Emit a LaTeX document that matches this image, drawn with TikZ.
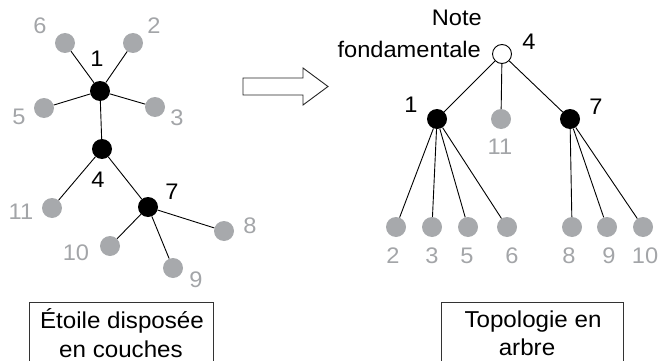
\documentclass[tikz,border=0pt]{standalone}
\usepackage{fontspec}
\setmainfont{Liberation Sans}[FakeStretch=1.05]
\definecolor{leafgray}{HTML}{A7A9AC}
\definecolor{labgray}{HTML}{A3A5A8}
\begin{document}
\begin{tikzpicture}[x=1pt,y=-1pt,
  edge/.style={line width=0.9pt, draw=black},
  leaf/.style={circle, fill=leafgray, minimum size=20pt, inner sep=0pt},
  hub/.style={circle, fill=black, minimum size=20pt, inner sep=0pt},
  rootnode/.style={circle, draw=black, fill=white, line width=0.9pt, minimum size=19pt, inner sep=0pt},
  glab/.style={text=labgray, font=\fontsize{22.5}{27}\selectfont, inner sep=0pt},
  blab/.style={text=black, font=\fontsize{22.5}{27}\selectfont, inner sep=0pt},
  boxtxt/.style={font=\fontsize{23}{28}\selectfont, inner sep=0pt, anchor=base},
  frame/.style={line width=0.9pt, draw=black!80}
]
\useasboundingbox (0,0) rectangle (658,361);

% ---------- left: layered star ----------
\node[hub] (L1) at (100,91) {};
\node[hub] (L4) at (102,149) {};
\node[hub] (L7) at (148,207) {};
\node[leaf] (L6) at (65,43) {};
\node[leaf] (L2) at (133,43) {};
\node[leaf] (L5) at (44,108) {};
\node[leaf] (L3) at (155,107) {};
\node[leaf] (L11) at (52,208) {};
\node[leaf] (L8) at (224,231) {};
\node[leaf] (L10) at (110,246) {};
\node[leaf] (L9) at (173,268) {};

\draw[edge] (L1) -- (L6);
\draw[edge] (L1) -- (L2);
\draw[edge] (L1) -- (L5);
\draw[edge] (L1) -- (L3);
\draw[edge] (L1) -- (L4);
\draw[edge] (L4) -- (L11);
\draw[edge] (L4) -- (L7);
\draw[edge] (L7) -- (L8);
\draw[edge] (L7) -- (L10);
\draw[edge] (L7) -- (L9);

\node[glab] (l6) at (40,26) {6};
\node[glab] (l2) at (154,26) {2};
\node[blab] (l1) at (97,59) {1};
\node[glab] (l5) at (19,117) {5};
\node[glab] (l3) at (177,118) {3};
\node[blab] (l4) at (98,180) {4};
\node[glab] (l11) at (21,212) {11};
\node[blab] (l7) at (172,192) {7};
\node[glab] (l8) at (250,226) {8};
\node[glab] (l10) at (76,253) {10};
\node[glab] (l9) at (196,280) {9};

% ---------- arrow ----------
\draw[line width=0.9pt, draw=black!85, fill=white]
  (243,78) -- (303,78) -- (303,68) -- (328,86.5) -- (303,105) -- (303,95) -- (243,95) -- cycle;

% ---------- right: tree ----------
\node[rootnode] (R4) at (502,54) {};
\node[hub] (R1) at (437,119) {};
\node[leaf] (R11) at (501,119) {};
\node[hub] (R7) at (570,119) {};
\node[leaf] (R2) at (396,227) {};
\node[leaf] (R3) at (432,227) {};
\node[leaf] (R5) at (468,227) {};
\node[leaf] (R6) at (507,227) {};
\node[leaf] (R8) at (572,227) {};
\node[leaf] (R9) at (607,227) {};
\node[leaf] (R10) at (643,227) {};

\draw[edge] (R4) -- (R1);
\draw[edge] (R4) -- (R11);
\draw[edge] (R4) -- (R7);
\draw[edge] (R1) -- (R2);
\draw[edge] (R1) -- (R3);
\draw[edge] (R1) -- (R5);
\draw[edge] (R1) -- (R6);
\draw[edge] (R7) -- (R8);
\draw[edge] (R7) -- (R9);
\draw[edge] (R7) -- (R10);

\node[blab, anchor=base east] (note1) at (482,26) {Note};
\node[blab, anchor=base east] (note2) at (481,57) {fondamentale};
\node[blab] (r4) at (529,42) {4};
\node[blab] (r1) at (411,105) {1};
\node[glab] (r11) at (500,147) {11};
\node[blab] (r7) at (596,107) {7};
\node[glab] (r2) at (393,256) {2};
\node[glab] (r3) at (432,256) {3};
\node[glab] (r5) at (467,256) {5};
\node[glab] (r6) at (512,256) {6};
\node[glab] (r8) at (569,256) {8};
\node[glab] (r9) at (609,256) {9};
\node[glab] (r10) at (645,256) {10};

% ---------- caption boxes (open at the bottom edge) ----------
\draw[frame] (29,361) -- (29,302) -- (213,302) -- (213,361);
\draw[frame] (441,361) -- (441,302) -- (623,302) -- (623,361);
\node[boxtxt] (t1a) at (122,328) {Étoile disposée};
\node[boxtxt] (t1b) at (121,357) {en couches};
\node[boxtxt] (t2a) at (533,327) {Topologie en};
\node[boxtxt] (t2b) at (527,355) {arbre};
\end{tikzpicture}
\end{document}
